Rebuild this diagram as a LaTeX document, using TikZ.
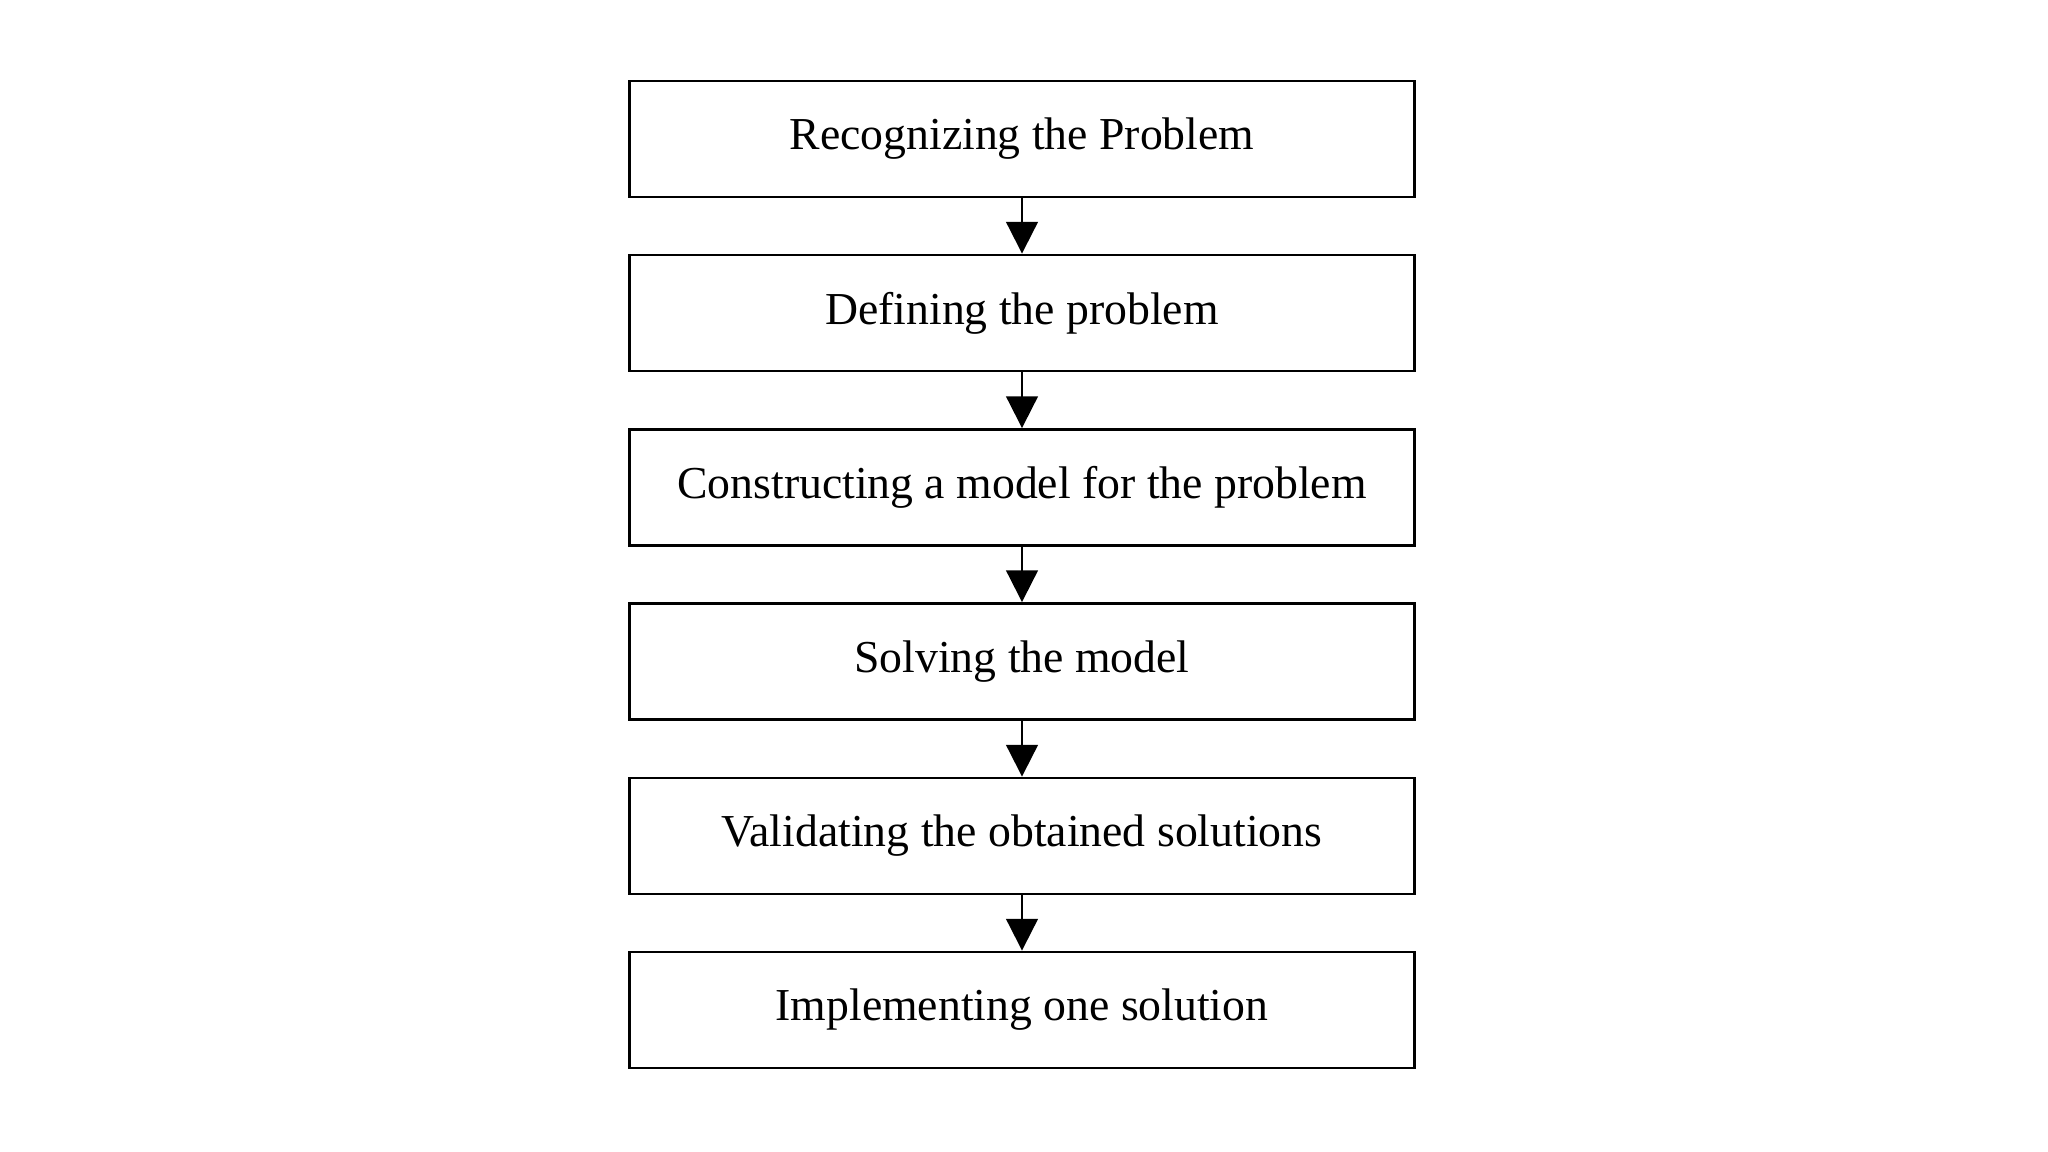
\documentclass[tikz,border=0pt]{standalone}
\usepackage{fontspec}
\setmainfont{Liberation Serif}
\usetikzlibrary{arrows.meta}
\begin{document}
\begin{tikzpicture}[x=0.01cm,y=-0.01cm,
  stepbox/.style={draw,line width=0.8pt,minimum width=7.85cm,minimum height=1.16cm,font=\fontsize{13}{15}\selectfont,inner sep=0pt},
  conn/.style={draw,line width=0.6pt,-{Triangle[length=9pt,width=9pt]}}]
\useasboundingbox (0,0) rectangle (2048,1152);
\node[stepbox] (a) at (1022,139) {Recognizing the Problem};
\node[stepbox] (b) at (1022,313) {Defining the problem};
\node[stepbox] (c) at (1022,487.5) {Constructing a model for the problem};
\node[stepbox] (d) at (1022,661.5) {Solving the model};
\node[stepbox] (e) at (1022,836) {Validating the obtained solutions};
\node[stepbox] (f) at (1022,1010) {Implementing one solution};
\draw[conn] (a) -- (b);
\draw[conn] (b) -- (c);
\draw[conn] (c) -- (d);
\draw[conn] (d) -- (e);
\draw[conn] (e) -- (f);
\end{tikzpicture}
\end{document}
